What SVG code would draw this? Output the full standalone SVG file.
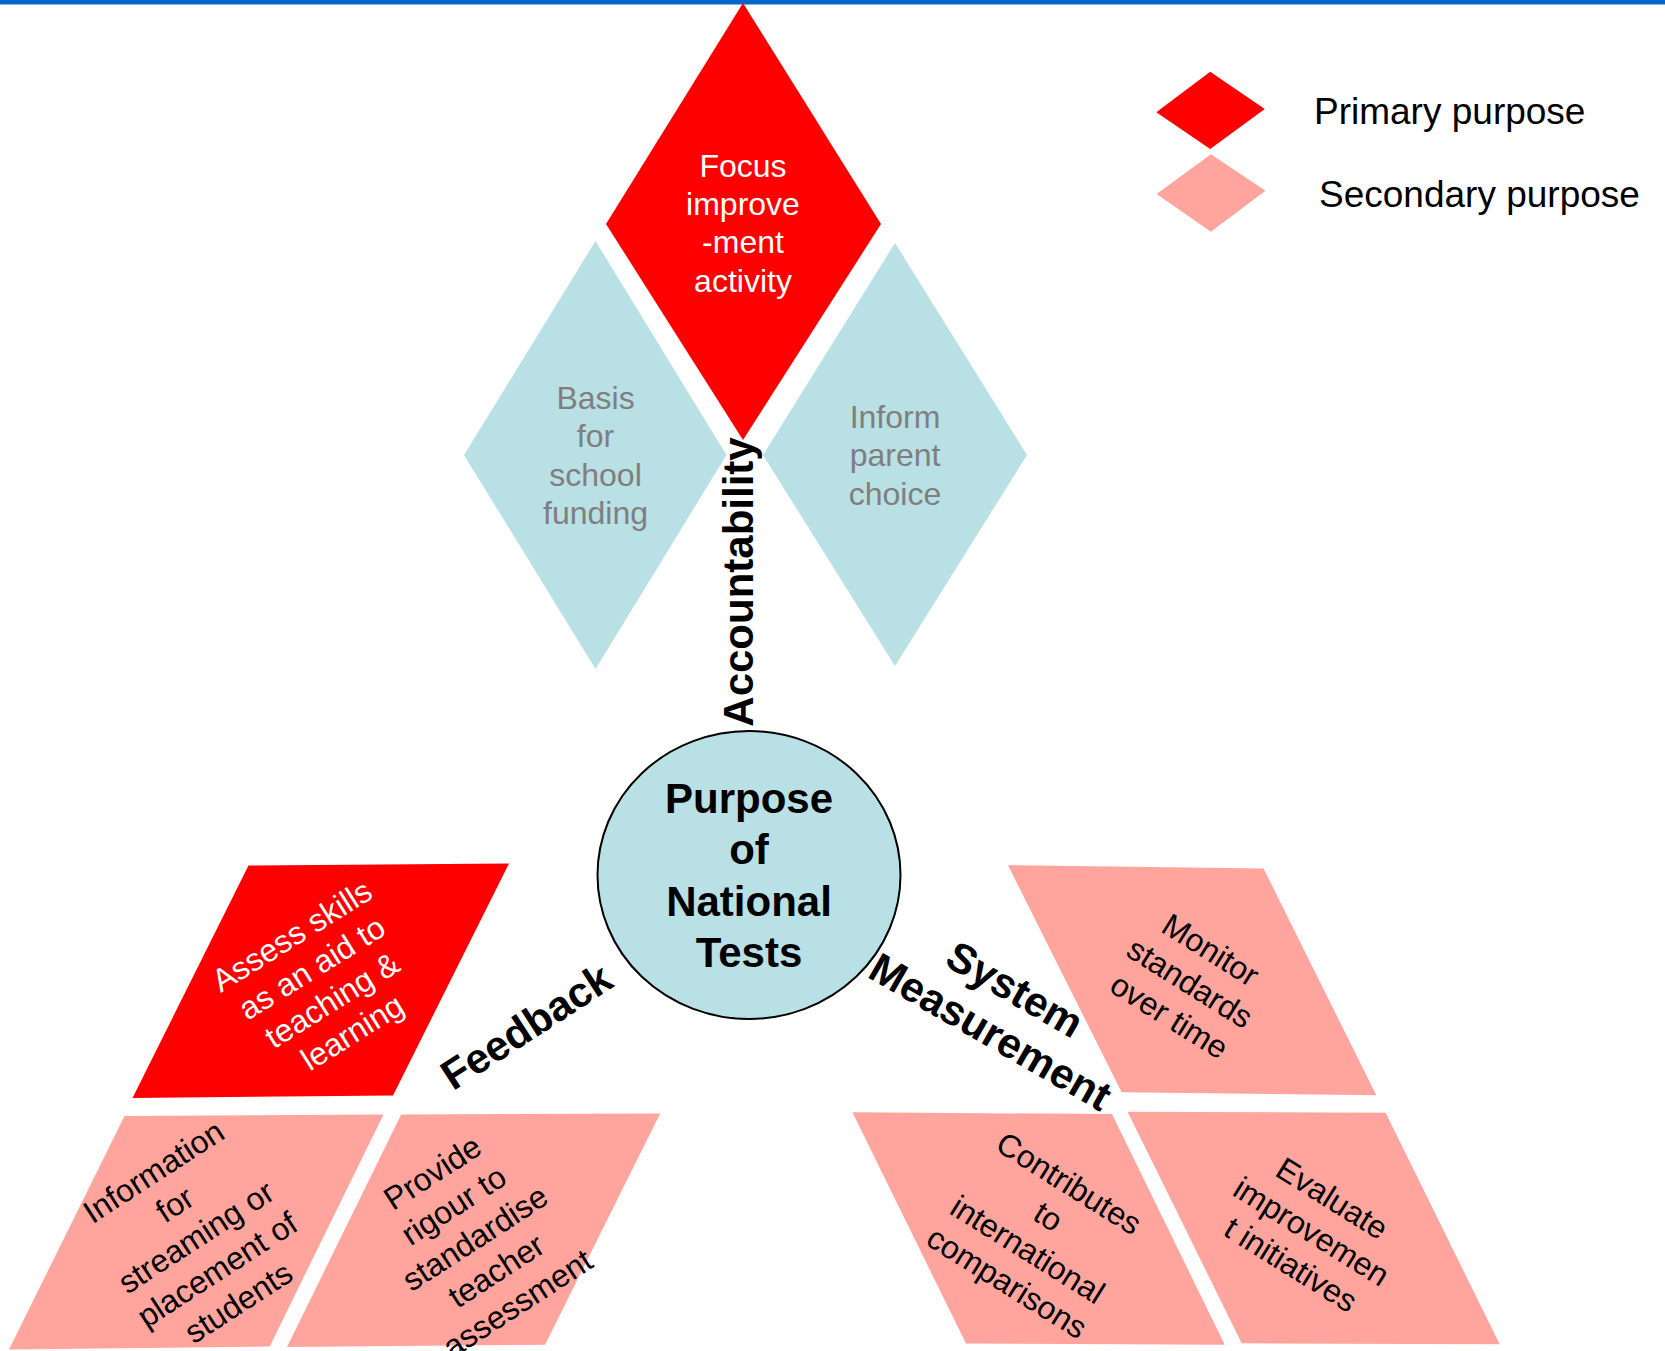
<svg xmlns="http://www.w3.org/2000/svg" width="1665" height="1351" viewBox="0 0 1665 1351">
  <defs>
    <style>
      .primary { fill: #FF0000; }
      .secondary { fill: #FFA59D; }
      .aqua { fill: #B9E0E4; }
      .lbl { font-family: "Liberation Sans", Arial, sans-serif; font-size: 32px; text-anchor: middle; }
      .white { fill: #FFFFFF; }
      .dark { fill: #000000; }
      .grey { fill: #7F7F7F; }
      .arm { font-family: "Liberation Sans", Arial, sans-serif; font-size: 42px; font-weight: bold; fill: #000000; text-anchor: middle; }
      .legend-text { font-family: "Liberation Sans", Arial, sans-serif; font-size: 37px; fill: #000000; }
    </style>
  </defs>

  <rect width="1665" height="4.5" fill="#0066CC"/>

  <!-- legend -->
  <g id="legend">
    <polygon class="primary" points="1210.2,71.7 1264.8,109 1210.2,149 1156.3,112.3"/>
    <polygon class="secondary" points="1210.9,154.3 1265.5,190.7 1210.9,231.7 1156.6,194"/>
    <text class="legend-text" x="1314" y="124">Primary purpose</text>
    <text class="legend-text" x="1319" y="207">Secondary purpose</text>
  </g>

  <!-- accountability arm -->
  <g id="node-focus">
    <polygon class="primary" points="743,3 881,224 743,440 606,224"/>
    <text class="lbl white" x="743" y="176.7">Focus</text>
    <text class="lbl white" x="743" y="215">improve</text>
    <text class="lbl white" x="743" y="253.3">-ment</text>
    <text class="lbl white" x="743" y="291.7">activity</text>
  </g>
  <g id="node-funding">
    <polygon class="aqua" points="595.5,241 726.5,455 595.5,669 464,455"/>
    <text class="lbl grey" x="595.5" y="408.5">Basis</text>
    <text class="lbl grey" x="595.5" y="447">for</text>
    <text class="lbl grey" x="595.5" y="485.5">school</text>
    <text class="lbl grey" x="595.5" y="524">funding</text>
  </g>
  <g id="node-parent-choice">
    <polygon class="aqua" points="895,243 1027,455 895,666 763,455"/>
    <text class="lbl grey" x="895" y="427.5">Inform</text>
    <text class="lbl grey" x="895" y="466">parent</text>
    <text class="lbl grey" x="895" y="504.5">choice</text>
  </g>

  <!-- feedback arm -->
  <g id="node-assess-skills">
    <polygon class="primary" points="248.5,865.5 509,863.5 393,1095.5 132.5,1098"/>
    <g transform="translate(322,984) rotate(-32)">
      <text class="lbl white" x="0" y="-46">Assess skills</text>
      <text class="lbl white" x="0" y="-8">as an aid to</text>
      <text class="lbl white" x="0" y="30">teaching &amp;</text>
      <text class="lbl white" x="0" y="68">learning</text>
    </g>
  </g>
  <g id="node-streaming">
    <polygon class="secondary" points="124.5,1116 383.5,1114.5 269.7,1346.5 9,1349.5"/>
    <g transform="translate(196,1237) rotate(-33)">
      <text class="lbl dark" x="0" y="-67">Information</text>
      <text class="lbl dark" x="0" y="-28">for</text>
      <text class="lbl dark" x="0" y="11">streaming or</text>
      <text class="lbl dark" x="0" y="50">placement of</text>
      <text class="lbl dark" x="0" y="89">students</text>
    </g>
  </g>
  <g id="node-rigour">
    <polygon class="secondary" points="401.2,1114.5 660.2,1113.5 545,1344.7 287,1347"/>
    <g transform="translate(475,1238) rotate(-33)">
      <text class="lbl dark" x="0" y="-67">Provide</text>
      <text class="lbl dark" x="0" y="-28">rigour to</text>
      <text class="lbl dark" x="0" y="11">standardise</text>
      <text class="lbl dark" x="0" y="50">teacher</text>
      <text class="lbl dark" x="0" y="89">assessment</text>
    </g>
  </g>

  <!-- system measurement arm -->
  <g id="node-monitor">
    <polygon class="secondary" points="1007.9,865.2 1263.5,868.5 1376.3,1095.2 1121.7,1092.2"/>
    <g transform="translate(1190,983) rotate(32)">
      <text class="lbl dark" x="0" y="-28">Monitor</text>
      <text class="lbl dark" x="0" y="11">standards</text>
      <text class="lbl dark" x="0" y="50">over time</text>
    </g>
  </g>
  <g id="node-international">
    <polygon class="secondary" points="852.4,1112.3 1112,1114 1224.7,1344.7 966,1343.6"/>
    <g transform="translate(1038,1233) rotate(32)">
      <text class="lbl dark" x="0" y="-47.5">Contributes</text>
      <text class="lbl dark" x="0" y="-8.5">to</text>
      <text class="lbl dark" x="0" y="30.5">international</text>
      <text class="lbl dark" x="0" y="69.5">comparisons</text>
    </g>
  </g>
  <g id="node-evaluate">
    <polygon class="secondary" points="1127.6,1111.7 1385.6,1112.7 1499.7,1344.3 1241.7,1343.3"/>
    <g transform="translate(1311.5,1231.5) rotate(32)">
      <text class="lbl dark" x="0" y="-28">Evaluate</text>
      <text class="lbl dark" x="0" y="11">improvemen</text>
      <text class="lbl dark" x="0" y="50">t initiatives</text>
    </g>
  </g>

  <!-- centre -->
  <g id="node-centre">
    <ellipse cx="749" cy="875" rx="151.5" ry="144" class="aqua" stroke="#000000" stroke-width="2"/>
    <text class="arm" x="749" y="813">Purpose</text>
    <text class="arm" x="749" y="864">of</text>
    <text class="arm" x="749" y="915.5">National</text>
    <text class="arm" x="749" y="966.5">Tests</text>
  </g>

  <!-- arm labels -->
  <g id="connectors">
    <g transform="translate(738,582) rotate(-90)">
      <text class="arm" x="0" y="15">Accountability</text>
    </g>
    <g transform="translate(526,1026) rotate(-33)">
      <text class="arm" x="0" y="15">Feedback</text>
    </g>
    <g transform="translate(1003,1010) rotate(30)">
      <text class="arm" x="0" y="-9.5">System</text>
      <text class="arm" x="0" y="39.5">Measurement</text>
    </g>
  </g>
</svg>
